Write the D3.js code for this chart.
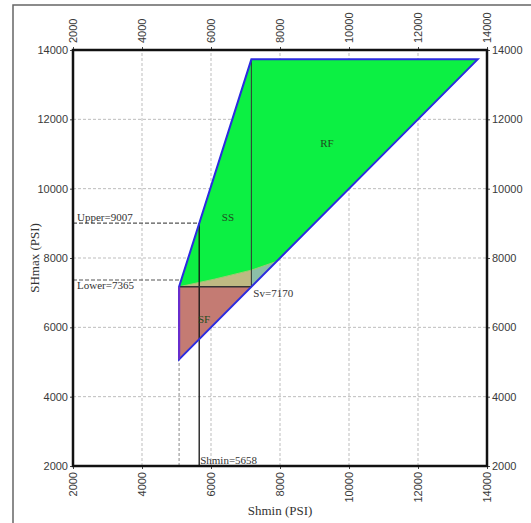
<!DOCTYPE html>
<html>
<head>
<meta charset="utf-8">
<script src="https://cdn.jsdelivr.net/npm/d3@7"></script>
<style>
  body { margin:0; padding:0; background:#fff; }
  svg { display:block; font-family:"Liberation Serif", "DejaVu Serif", serif; }
  .grid line { stroke:#bdbdbd; stroke-dasharray:3,2; stroke-width:1; }
  .tick text { fill:#3a3a3a; font-size:11px; }
</style>
</head>
<body>
<svg id="chart" width="531" height="523"></svg>
<script>
// axis ticks
var ticks = [2000, 4000, 6000, 8000, 10000, 12000, 14000];

// stress polygon values (psi)
var shminMin = 5075, sv = 7170, shmaxTop = 13730;
var shminLine = 5658, upper = 9007, lower = 7365;

var polyOutline = [[shminMin, shminMin], [shminMin, sv], [sv, shmaxTop], [shmaxTop, shmaxTop]];
var nfRegion = [[shminMin, shminMin], [shminMin, sv], [sv, sv]];
var ssRfRegion = [[shminMin, sv], [sv, shmaxTop], [shmaxTop, shmaxTop], [sv, sv]];
var overlapCurve = [[shminMin, sv], [6100, 7390], [sv, 7650], [7900, 7900]];
var khakiRegion = [[shminMin, sv], [6100, 7390], [sv, 7650], [sv, sv]];
var blueRegion = [[sv, 7650], [7900, 7900], [sv, sv]];

var regionLabels = [["RF", 9360, 11330], ["SS", 6490, 9180], ["SF", 5800, 6240]];

var svg = d3.select("#chart");
var x = d3.scaleLinear().domain([2000, 14000]).range([73, 487]);
var y = d3.scaleLinear().domain([2000, 14000]).range([466, 50]);

// figure frame (only top & left visible)
svg.append("rect").attr("x", 13).attr("y", 5).attr("width", 600).attr("height", 600)
  .attr("fill", "none").attr("stroke", "#666").attr("stroke-width", 1.5);

// grid
var g = svg.append("g").attr("class", "grid");
g.selectAll(".gx").data(ticks.slice(1, -1)).enter().append("line")
  .attr("x1", d => x(d)).attr("x2", d => x(d)).attr("y1", y(2000)).attr("y2", y(14000));
g.selectAll(".gy").data(ticks.slice(1, -1)).enter().append("line")
  .attr("y1", d => y(d)).attr("y2", d => y(d)).attr("x1", x(2000)).attr("x2", x(14000));

var line = d3.line().x(d => x(d[0])).y(d => y(d[1]));
function poly(pts, fill) {
  svg.append("path").attr("d", line(pts) + "Z").attr("fill", fill).attr("stroke", "none");
}
poly(ssRfRegion, "#0cf043");
poly(nfRegion, "#c47b73");
poly(khakiRegion, "#bfb983");
poly(blueRegion, "#8cbfa8");

// overlap curve edge
svg.append("path").attr("d", line(overlapCurve))
  .attr("fill", "none").attr("stroke", "#9ccc70").attr("stroke-width", 1);

// dashed reference lines
function seg(x1, y1, x2, y2, color, width, dash) {
  svg.append("line").attr("x1", x(x1)).attr("y1", y(y1)).attr("x2", x(x2)).attr("y2", y(y2))
    .attr("stroke", color).attr("stroke-width", width).attr("stroke-dasharray", dash || null);
}
seg(2000, upper, shminLine, upper, "#555", 1.2, "4,2");
seg(2000, lower, shminMin, lower, "#555", 1.2, "4,2");
seg(shminMin, 2000, shminMin, shminMin, "#888", 1, "3,2");

// solid lines
seg(shminLine, 2000, shminLine, upper, "#111", 1.3);
seg(sv, sv, sv, shmaxTop, "#333", 1);
seg(shminMin, sv, sv, sv, "#333", 1.3);

// polygon outline
svg.append("path").attr("d", line(polyOutline) + "Z").attr("fill", "none")
  .attr("stroke", "#2b2be0").attr("stroke-width", 2);
seg(shminMin, shminMin, shminMin, sv, "#6a2ccc", 2);

// axes
var fmt = d3.format("d");
svg.append("g").attr("transform", "translate(73,0)")
  .call(d3.axisLeft(y).tickValues(ticks).tickFormat(fmt).tickSize(3).tickPadding(2))
  .call(s => s.select(".domain").remove());
svg.append("g").attr("transform", "translate(487,0)")
  .call(d3.axisRight(y).tickValues(ticks).tickFormat(fmt).tickSize(3).tickPadding(2))
  .call(s => s.select(".domain").remove());
svg.append("g").attr("transform", "translate(0,466)")
  .call(d3.axisBottom(x).tickValues(ticks).tickFormat(fmt).tickSize(3))
  .call(s => s.select(".domain").remove())
  .selectAll("text").attr("transform", "rotate(-90)").attr("text-anchor", "end")
  .attr("x", -6).attr("y", 0).attr("dy", "0.35em");
svg.append("g").attr("transform", "translate(0,50)")
  .call(d3.axisTop(x).tickValues(ticks).tickFormat(fmt).tickSize(3))
  .call(s => s.select(".domain").remove())
  .selectAll("text").attr("transform", "rotate(-90)").attr("text-anchor", "start")
  .attr("x", 7).attr("y", 0).attr("dy", "0.35em");
svg.selectAll(".tick line").attr("stroke", "#444");

// plot frame
svg.append("rect").attr("x", 73).attr("y", 50).attr("width", 414).attr("height", 416)
  .attr("fill", "none").attr("stroke", "#111").attr("stroke-width", 2.5);

// annotations
function label(t, px, py, size, color, anchor) {
  return svg.append("text").attr("x", px).attr("y", py).text(t)
    .attr("font-size", size).attr("fill", color).attr("text-anchor", anchor || "start");
}
label("Upper=" + upper, x(2000) + 4, y(upper) - 2, 11, "#333");
label("Lower=" + lower, x(2000) + 4, y(lower) + 9, 11, "#333");
label("Sv=" + sv, x(sv) + 2, y(sv) + 10, 11, "#333");
label("Shmin=" + shminLine, x(shminLine) + 1, y(2000) - 2, 11, "#333");
regionLabels.forEach(function (r) {
  label(r[0], x(r[1]), y(r[2]) + 4, 11, "#1f4d1f", "middle");
});

label("SHmax (PSI)", 0, 0, 13, "#333", "middle")
  .attr("transform", "translate(39,258) rotate(-90)");
label("Shmin (PSI)", 280, 515, 13, "#333", "middle");
</script>
</body>
</html>
